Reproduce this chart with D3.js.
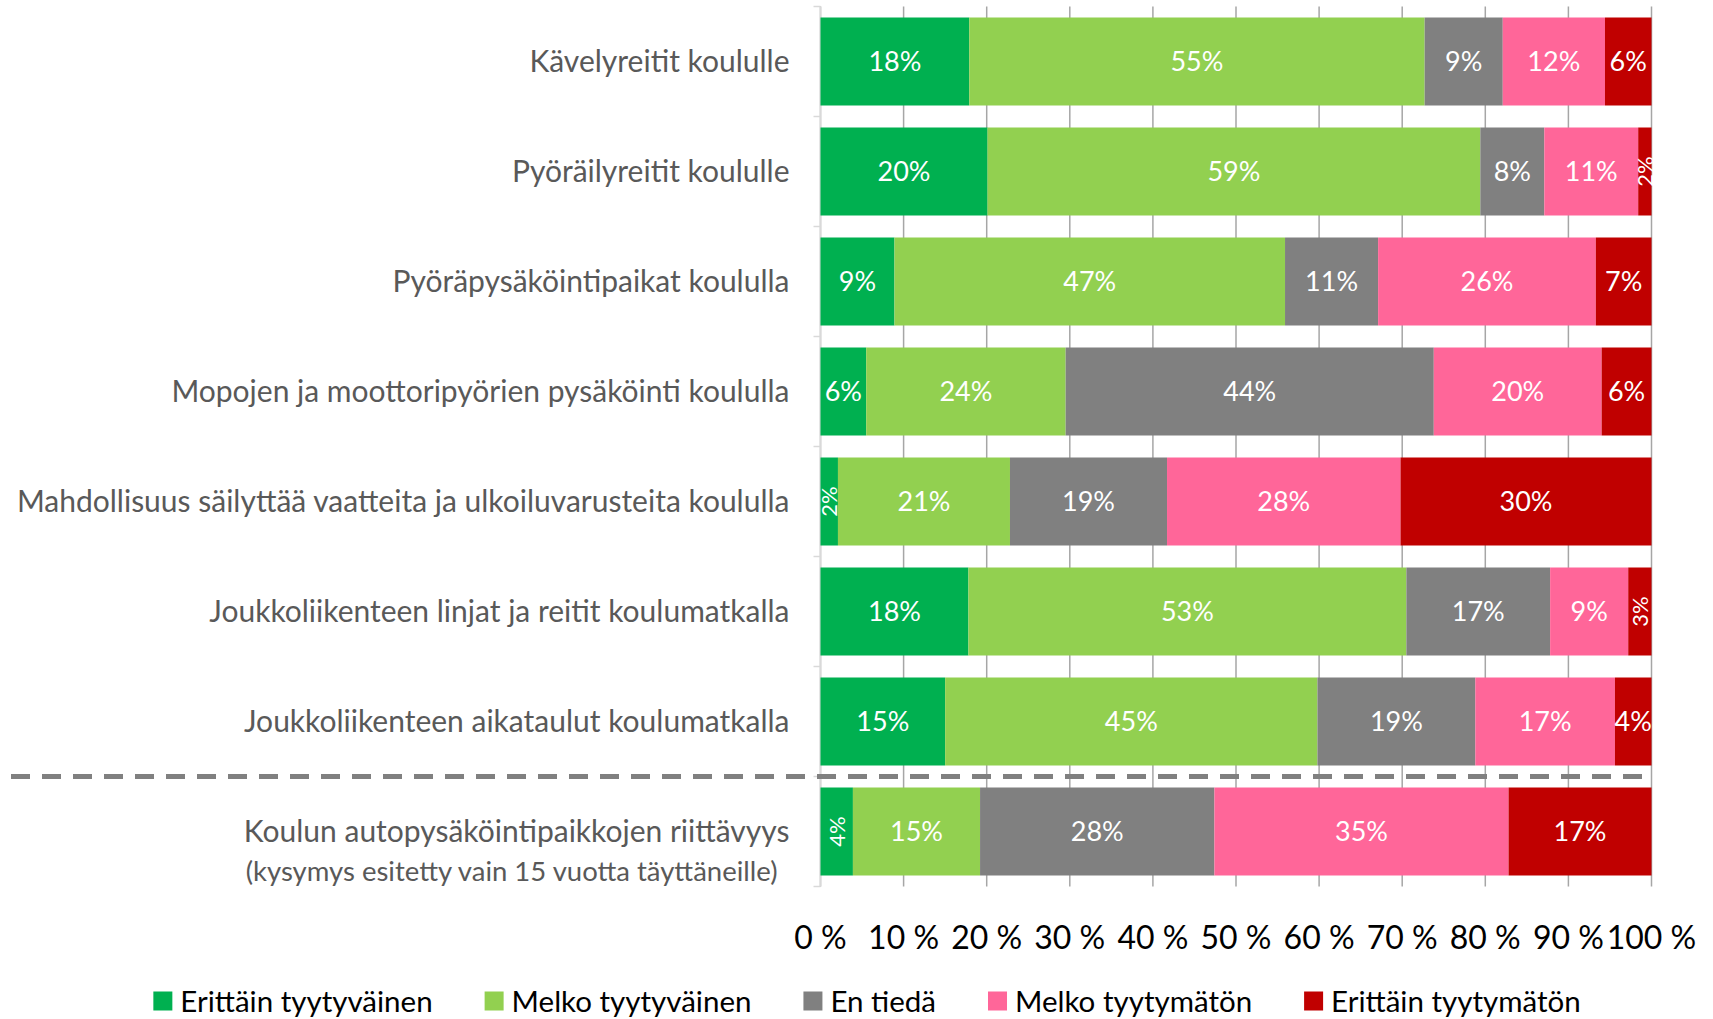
<!DOCTYPE html>
<html>
<head>
<meta charset="utf-8">
<script src="https://cdn.jsdelivr.net/npm/d3@7"></script>
<style>
  body { margin: 0; background: #fff; }
  svg { display: block; font-family: Lato, 'Open Sans', sans-serif; }
</style>
</head>
<body>
<div id="chart"></div>
<script>
// data (percent of answers)
const categories = [
  'Kävelyreitit koululle',
  'Pyöräilyreitit koululle',
  'Pyöräpysäköintipaikat koululla',
  'Mopojen ja moottoripyörien pysäköinti koululla',
  'Mahdollisuus säilyttää vaatteita ja ulkoiluvarusteita koululla',
  'Joukkoliikenteen linjat ja reitit koulumatkalla',
  'Joukkoliikenteen aikataulut koulumatkalla',
  'Koulun autopysäköintipaikkojen riittävyys',
];
const categoryNotes = ['', '', '', '', '', '', '', '(kysymys esitetty vain 15 vuotta täyttäneille)'];
const seriesNames = ['Erittäin tyytyväinen', 'Melko tyytyväinen', 'En tiedä', 'Melko tyytymätön', 'Erittäin tyytymätön'];
const seriesColors = ['#00b050', '#92d050', '#808080', '#ff6699', '#c00000'];
const erittainTyytyvainen = [17.9, 20.1, 8.9, 5.5, 2.1, 17.8, 15.0, 3.9];
const melkoTyytyvainen = [54.8, 59.3, 47.0, 24.0, 20.7, 52.7, 44.8, 15.3];
const enTieda = [9.4, 7.7, 11.2, 44.3, 18.9, 17.3, 19.0, 28.2];
const melkoTyytymaton = [12.3, 11.3, 26.2, 20.2, 28.1, 9.4, 16.8, 35.4];
const erittainTyytymaton = [5.6, 1.6, 6.7, 6.0, 30.2, 2.8, 4.4, 17.2];
const tickValues = [0, 10, 20, 30, 40, 50, 60, 70, 80, 90, 100];

function chartStacked(tagName) {
  const width = 1713;
  const height = 1019;
  const margin = { top: 6.5, left: 820.5, right: 61.5, bottom: 132.5 };
  const separatorBefore = categories[7]; // dashed line above the last question
  const rotateBelow = 4; // narrow segments get a vertical label

  const seriesValues = [erittainTyytyvainen, melkoTyytyvainen, enTieda, melkoTyytymaton, erittainTyytymaton];
  const rows = categories.map((name, i) => {
    const row = { name: name };
    seriesNames.forEach((s, j) => (row[s] = seriesValues[j][i]));
    return row;
  });
  const stacked = d3.stack().keys(seriesNames)(rows);

  const x = d3
    .scaleLinear()
    .domain([0, 100])
    .range([margin.left, width - margin.right]);

  const y = d3
    .scaleBand()
    .domain(categories)
    .range([margin.top, height - margin.bottom])
    .paddingInner(0.2)
    .paddingOuter(0.1);

  const color = d3.scaleOrdinal(seriesNames, seriesColors);

  const svg = d3
    .select(tagName)
    .append('svg')
    .attr('width', width)
    .attr('height', height)
    .attr('viewBox', `0 0 ${width} ${height}`);

  svg.append('rect').attr('width', width).attr('height', height).attr('fill', '#fff');

  // vertical grid
  svg
    .append('g')
    .selectAll('line')
    .data(tickValues)
    .enter()
    .append('line')
    .attr('x1', (d) => x(d))
    .attr('x2', (d) => x(d))
    .attr('y1', margin.top)
    .attr('y2', height - margin.bottom)
    .attr('stroke', '#a6a6a6')
    .attr('stroke-width', 1.5);

  // category axis with ticks between bands
  const bounds = categories.map((c) => y(c) - (y.step() * y.paddingInner()) / 2);
  bounds[0] = margin.top;
  bounds.push(height - margin.bottom);
  const yAxis = svg.append('g');
  yAxis
    .append('line')
    .attr('x1', x(0))
    .attr('x2', x(0))
    .attr('y1', margin.top)
    .attr('y2', height - margin.bottom)
    .attr('stroke', '#d9d9d9')
    .attr('stroke-width', 1.5);
  yAxis
    .selectAll('.tick')
    .data(bounds)
    .enter()
    .append('line')
    .attr('x1', x(0) - 7)
    .attr('x2', x(0))
    .attr('y1', (d) => d)
    .attr('y2', (d) => d)
    .attr('stroke', '#d9d9d9')
    .attr('stroke-width', 1.5);

  // bars
  const layers = svg
    .append('g')
    .selectAll('g')
    .data(stacked)
    .enter()
    .append('g')
    .attr('fill', (d) => color(d.key));

  layers
    .selectAll('rect')
    .data((d) => d)
    .enter()
    .append('rect')
    .attr('x', (d) => x(d[0]))
    .attr('y', (d) => y(d.data.name))
    .attr('width', (d) => x(d[1]) - x(d[0]))
    .attr('height', y.bandwidth());

  // value labels
  const labels = svg.append('g').attr('fill', '#fff').attr('text-anchor', 'middle');
  stacked.forEach((layer) => {
    labels
      .selectAll(null)
      .data(layer)
      .enter()
      .append('text')
      .text((d) => Math.round(d[1] - d[0]) + '%')
      .attr('transform', (d) => {
        const cx = (x(d[0]) + x(d[1])) / 2;
        const cy = y(d.data.name) + y.bandwidth() / 2;
        return d[1] - d[0] < rotateBelow ? `translate(${cx},${cy}) rotate(-90)` : `translate(${cx},${cy})`;
      })
      .attr('dy', '0.36em')
      .style('font-size', (d) => (d[1] - d[0] < rotateBelow ? '22px' : '27px'));
  });

  // dashed separator
  const sepY = y(separatorBefore) - (y.step() * y.paddingInner()) / 2;
  svg
    .append('line')
    .attr('x1', 11)
    .attr('x2', x(100))
    .attr('y1', sepY)
    .attr('y2', sepY)
    .attr('stroke', '#808080')
    .attr('stroke-width', 5)
    .attr('stroke-dasharray', '19 12');

  // category names
  const names = svg.append('g').attr('fill', '#595959').attr('text-anchor', 'end').style('font-size', '30px');
  categories.forEach((c, i) => {
    names
      .append('text')
      .attr('x', x(0) - 31)
      .attr('y', y(c) + y.bandwidth() / 2)
      .attr('dy', '0.36em')
      .text(c);
    if (categoryNotes[i]) {
      names
        .append('text')
        .attr('x', x(0) - 43)
        .attr('y', y(c) + y.bandwidth() / 2 + 40)
        .attr('dy', '0.36em')
        .style('font-size', '27.5px')
        .text(categoryNotes[i]);
    }
  });

  // percent axis
  svg
    .append('g')
    .selectAll('text')
    .data(tickValues)
    .enter()
    .append('text')
    .attr('x', (d) => x(d))
    .attr('y', 937)
    .attr('dy', '0.36em')
    .attr('text-anchor', 'middle')
    .attr('fill', '#000')
    .style('font-size', '32px')
    .text((d) => d + ' %');

  // legend
  const legend = svg.append('g').style('font-size', '29.5px').attr('fill', '#000');
  const items = seriesNames.map((s) => {
    const g = legend.append('g');
    g.append('rect').attr('width', 19).attr('height', 19).attr('y', -9.5).attr('fill', color(s));
    const t = g.append('text').attr('x', 27).attr('dy', '0.36em').text(s);
    return { g: g, w: 27 + t.node().getComputedTextLength() };
  });
  const gap = 52;
  const total = d3.sum(items, (d) => d.w) + gap * (items.length - 1);
  let lx = 867 - total / 2;
  items.forEach((it) => {
    it.g.attr('transform', `translate(${lx},1001)`);
    lx += it.w + gap;
  });

  svg.node();
}

chartStacked('#chart');
</script>
</body>
</html>
